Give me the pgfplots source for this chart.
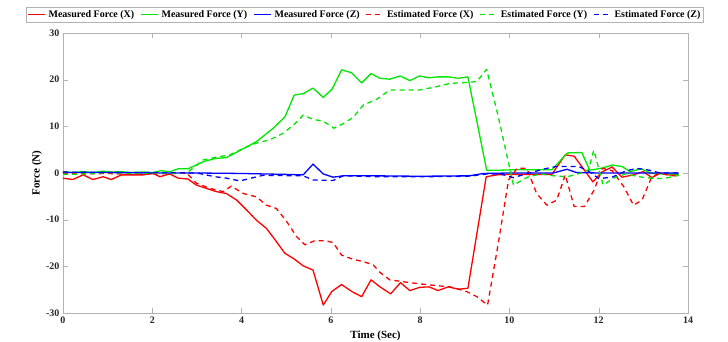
\documentclass[border=0pt]{standalone}
\usepackage{fontspec}
\setmainfont{Liberation Serif}
\usepackage{pgfplots}
\pgfplotsset{compat=1.18}
\definecolor{mred}{RGB}{255,0,0}
\definecolor{mgreen}{RGB}{0,230,0}
\definecolor{mblue}{RGB}{0,0,255}
\begin{document}
\begin{tikzpicture}
\useasboundingbox (-63pt,-29pt) rectangle (665pt,313pt);
\begin{axis}[
  at={(0pt,0pt)}, anchor=south west,
  scale only axis, width=625pt, height=280pt,
  xmin=0, xmax=14, ymin=-30, ymax=30,
  xtick={0,2,...,14}, ytick={-30,-20,...,30},
  axis line style={draw=gray!60},
  tick style={draw=gray!60},
  major tick length=5pt,
  tick align=inside,
  /pgf/number format/assume math mode=true,
  ticklabel style={font=\bfseries\fontsize{10}{12}\selectfont, text=black!85},
  xlabel={Time (Sec)}, ylabel={Force (N)},
  label style={font=\bfseries\fontsize{11}{13}\selectfont},
  xlabel style={at={(axis description cs:0.5,-0.082)}, anchor=center},
  ylabel style={at={(axis description cs:-0.0416,0.5)}, anchor=center},
  legend columns=6,
  legend image code/.code={\draw[#1] (0pt,0pt) -- (17pt,0pt);},
  legend style={at={(axis description cs:0.483,1.066)}, anchor=center,
    draw=gray!60, font=\bfseries\fontsize{10}{12}\selectfont,
    inner xsep=1pt, inner ysep=1pt,
    /tikz/every odd column/.append style={column sep=1pt},
    /tikz/every even column/.append style={column sep=4pt}},
  every axis plot/.append style={line width=1.3pt, line join=round},
]
% Measured X
\addplot[mred] coordinates {(0,-1.1) (0.22,-1.4) (0.45,-0.4) (0.67,-1.4) (0.9,-0.8) (1.08,-1.4) (1.31,-0.4) (1.49,-0.4) (1.79,-0.4) (2.02,-0.1) (2.17,-0.8) (2.39,-0.2) (2.58,-1.1) (2.8,-1.3) (2.99,-2.6) (3.21,-3.3) (3.44,-4.0) (3.66,-4.4) (3.89,-5.8) (4.11,-7.9) (4.33,-10.1) (4.56,-11.9) (4.78,-14.7) (4.97,-17.2) (5.19,-18.5) (5.38,-19.9) (5.6,-20.8) (5.83,-28.3) (6.02,-25.4) (6.24,-23.9) (6.47,-25.4) (6.69,-26.5) (6.9,-22.9) (7.1,-24.4) (7.34,-25.9) (7.56,-23.5) (7.77,-25.2) (7.99,-24.5) (8.2,-24.4) (8.4,-25.2) (8.63,-24.4) (8.86,-24.9) (9.07,-24.7) (9.48,-0.8) (9.72,-0.4) (10.0,-0.3) (10.3,-0.3) (10.6,-0.3) (10.95,-0.3) (11.25,3.9) (11.45,3.6) (11.62,1.4) (11.87,-1.9) (12.07,0.2) (12.3,1.3) (12.52,-0.9) (12.78,-0.4) (13.0,0.3) (13.19,-1.0) (13.38,0) (13.57,-0.4) (13.79,-0.4)};
\addlegendentry{Measured Force (X)}
% Measured Y
\addplot[mgreen] coordinates {(0,0.3) (0.22,0.1) (0.45,0.3) (0.67,0.1) (0.9,0.4) (1.1,0.2) (1.3,0.3) (1.5,0.1) (1.8,0.2) (2.02,0.1) (2.2,0.5) (2.4,0.3) (2.58,0.9) (2.8,0.9) (3.14,2.4) (3.4,3.1) (3.66,3.3) (3.92,4.6) (4.33,6.7) (4.71,9.6) (4.97,12) (5.18,16.7) (5.38,17) (5.6,18.2) (5.83,16.2) (6.03,18) (6.24,22.1) (6.46,21.5) (6.69,19.3) (6.9,21.3) (7.1,20.3) (7.32,20.1) (7.55,20.8) (7.77,19.8) (7.99,20.8) (8.18,20.4) (8.4,20.6) (8.63,20.6) (8.86,20.3) (9.07,20.6) (9.49,0.6) (9.8,0.6) (10.1,0.7) (10.5,0.7) (10.95,0.7) (11.3,4.3) (11.62,4.4) (11.8,0.6) (12.05,1.0) (12.3,1.7) (12.52,1.4) (12.7,0.3) (12.95,0.9) (13.19,-0.1) (13.4,-0.2) (13.79,-0.2)};
\addlegendentry{Measured Force (Y)}
% Measured Z
\addplot[mblue] coordinates {(0,0.1) (1,0.1) (2,0) (3,0) (4,-0.1) (4.48,-0.2) (5,-0.3) (5.38,-0.4) (5.6,1.9) (5.83,-0.2) (6.05,-0.9) (6.28,-0.6) (7,-0.6) (8,-0.7) (9.1,-0.6) (9.42,-0.1) (10,0) (10.98,0) (11.29,0.8) (11.5,0.1) (12,0) (13,0) (13.79,0)};
\addlegendentry{Measured Force (Z)}
% Estimated X
\addplot[mred, dash pattern=on 5pt off 4pt] coordinates {(0,0) (0.5,-0.2) (1,-0.1) (1.5,-0.3) (2,-0.2) (2.5,-0.1) (2.77,0) (2.99,-2.2) (3.29,-3.3) (3.59,-4.0) (3.77,-2.8) (4.04,-4.4) (4.33,-5.1) (4.56,-6.9) (4.78,-7.6) (5.01,-10.4) (5.23,-13.6) (5.42,-15.4) (5.64,-14.5) (5.87,-14.5) (6.05,-14.9) (6.24,-17.6) (6.5,-18.5) (6.73,-19.0) (6.95,-19.7) (7.1,-21.3) (7.32,-22.9) (7.77,-23.5) (8.22,-24.0) (8.67,-24.4) (9.04,-25.4) (9.27,-26.5) (9.51,-28.3) (9.75,-15.1) (9.98,-1.5) (10.17,1.0) (10.39,1.0) (10.61,-4.4) (10.84,-6.9) (11.06,-5.8) (11.25,-0.4) (11.45,-7.2) (11.68,-7.2) (11.9,-3.6) (12.08,1.0) (12.3,0.5) (12.56,-2.9) (12.78,-6.9) (12.97,-5.8) (13.19,-0.8) (13.38,0) (13.6,-0.6) (13.79,-0.6)};
\addlegendentry{Estimated Force (X)}
% Estimated Y
\addplot[mgreen, dash pattern=on 5pt off 4pt] coordinates {(0,-0.3) (0.5,-0.2) (1,0.1) (1.5,-0.1) (2,0) (2.5,-0.1) (2.8,0.2) (3.14,2.8) (3.44,3.4) (3.74,3.9) (4.04,5.3) (4.33,6.4) (4.63,7.1) (4.93,8.5) (5.2,10.6) (5.38,12.4) (5.6,11.5) (5.83,11.1) (6.07,9.6) (6.28,10.6) (6.5,11.9) (6.73,14.6) (7.03,15.8) (7.32,17.8) (7.99,17.8) (8.37,18.5) (8.67,19.2) (9.04,19.4) (9.27,19.6) (9.49,22.2) (9.75,12.1) (10.09,-2.6) (10.4,-0.9) (10.7,-0.2) (10.98,-0.6) (11.3,-0.8) (11.6,0) (11.77,0.7) (11.89,4.9) (12.1,-2.6) (12.33,-1.1) (12.6,-0.2) (12.9,-0.8) (13.15,-1.1) (13.45,-1.2) (13.79,-0.5)};
\addlegendentry{Estimated Force (Y)}
% Estimated Z
\addplot[mblue, dash pattern=on 5pt off 4pt] coordinates {(0,0.2) (1,0.1) (2,0.1) (3,0) (3.4,-0.8) (3.66,-1.1) (3.96,-1.7) (4.26,-1.0) (4.48,-0.5) (5.38,-0.6) (5.6,-1.5) (6.05,-1.6) (6.28,-0.6) (7,-0.8) (8,-0.8) (9.1,-0.7) (9.49,-0.2) (9.8,-0.2) (10.09,-1.0) (10.4,-0.1) (10.84,1.0) (11.06,1.4) (11.55,1.4) (11.77,0.4) (12.0,-1.2) (12.3,-0.9) (12.6,0.4) (12.84,1.0) (13.08,0.7) (13.38,0) (13.79,0)};
\addlegendentry{Estimated Force (Z)}
\end{axis}
\end{tikzpicture}
\end{document}
